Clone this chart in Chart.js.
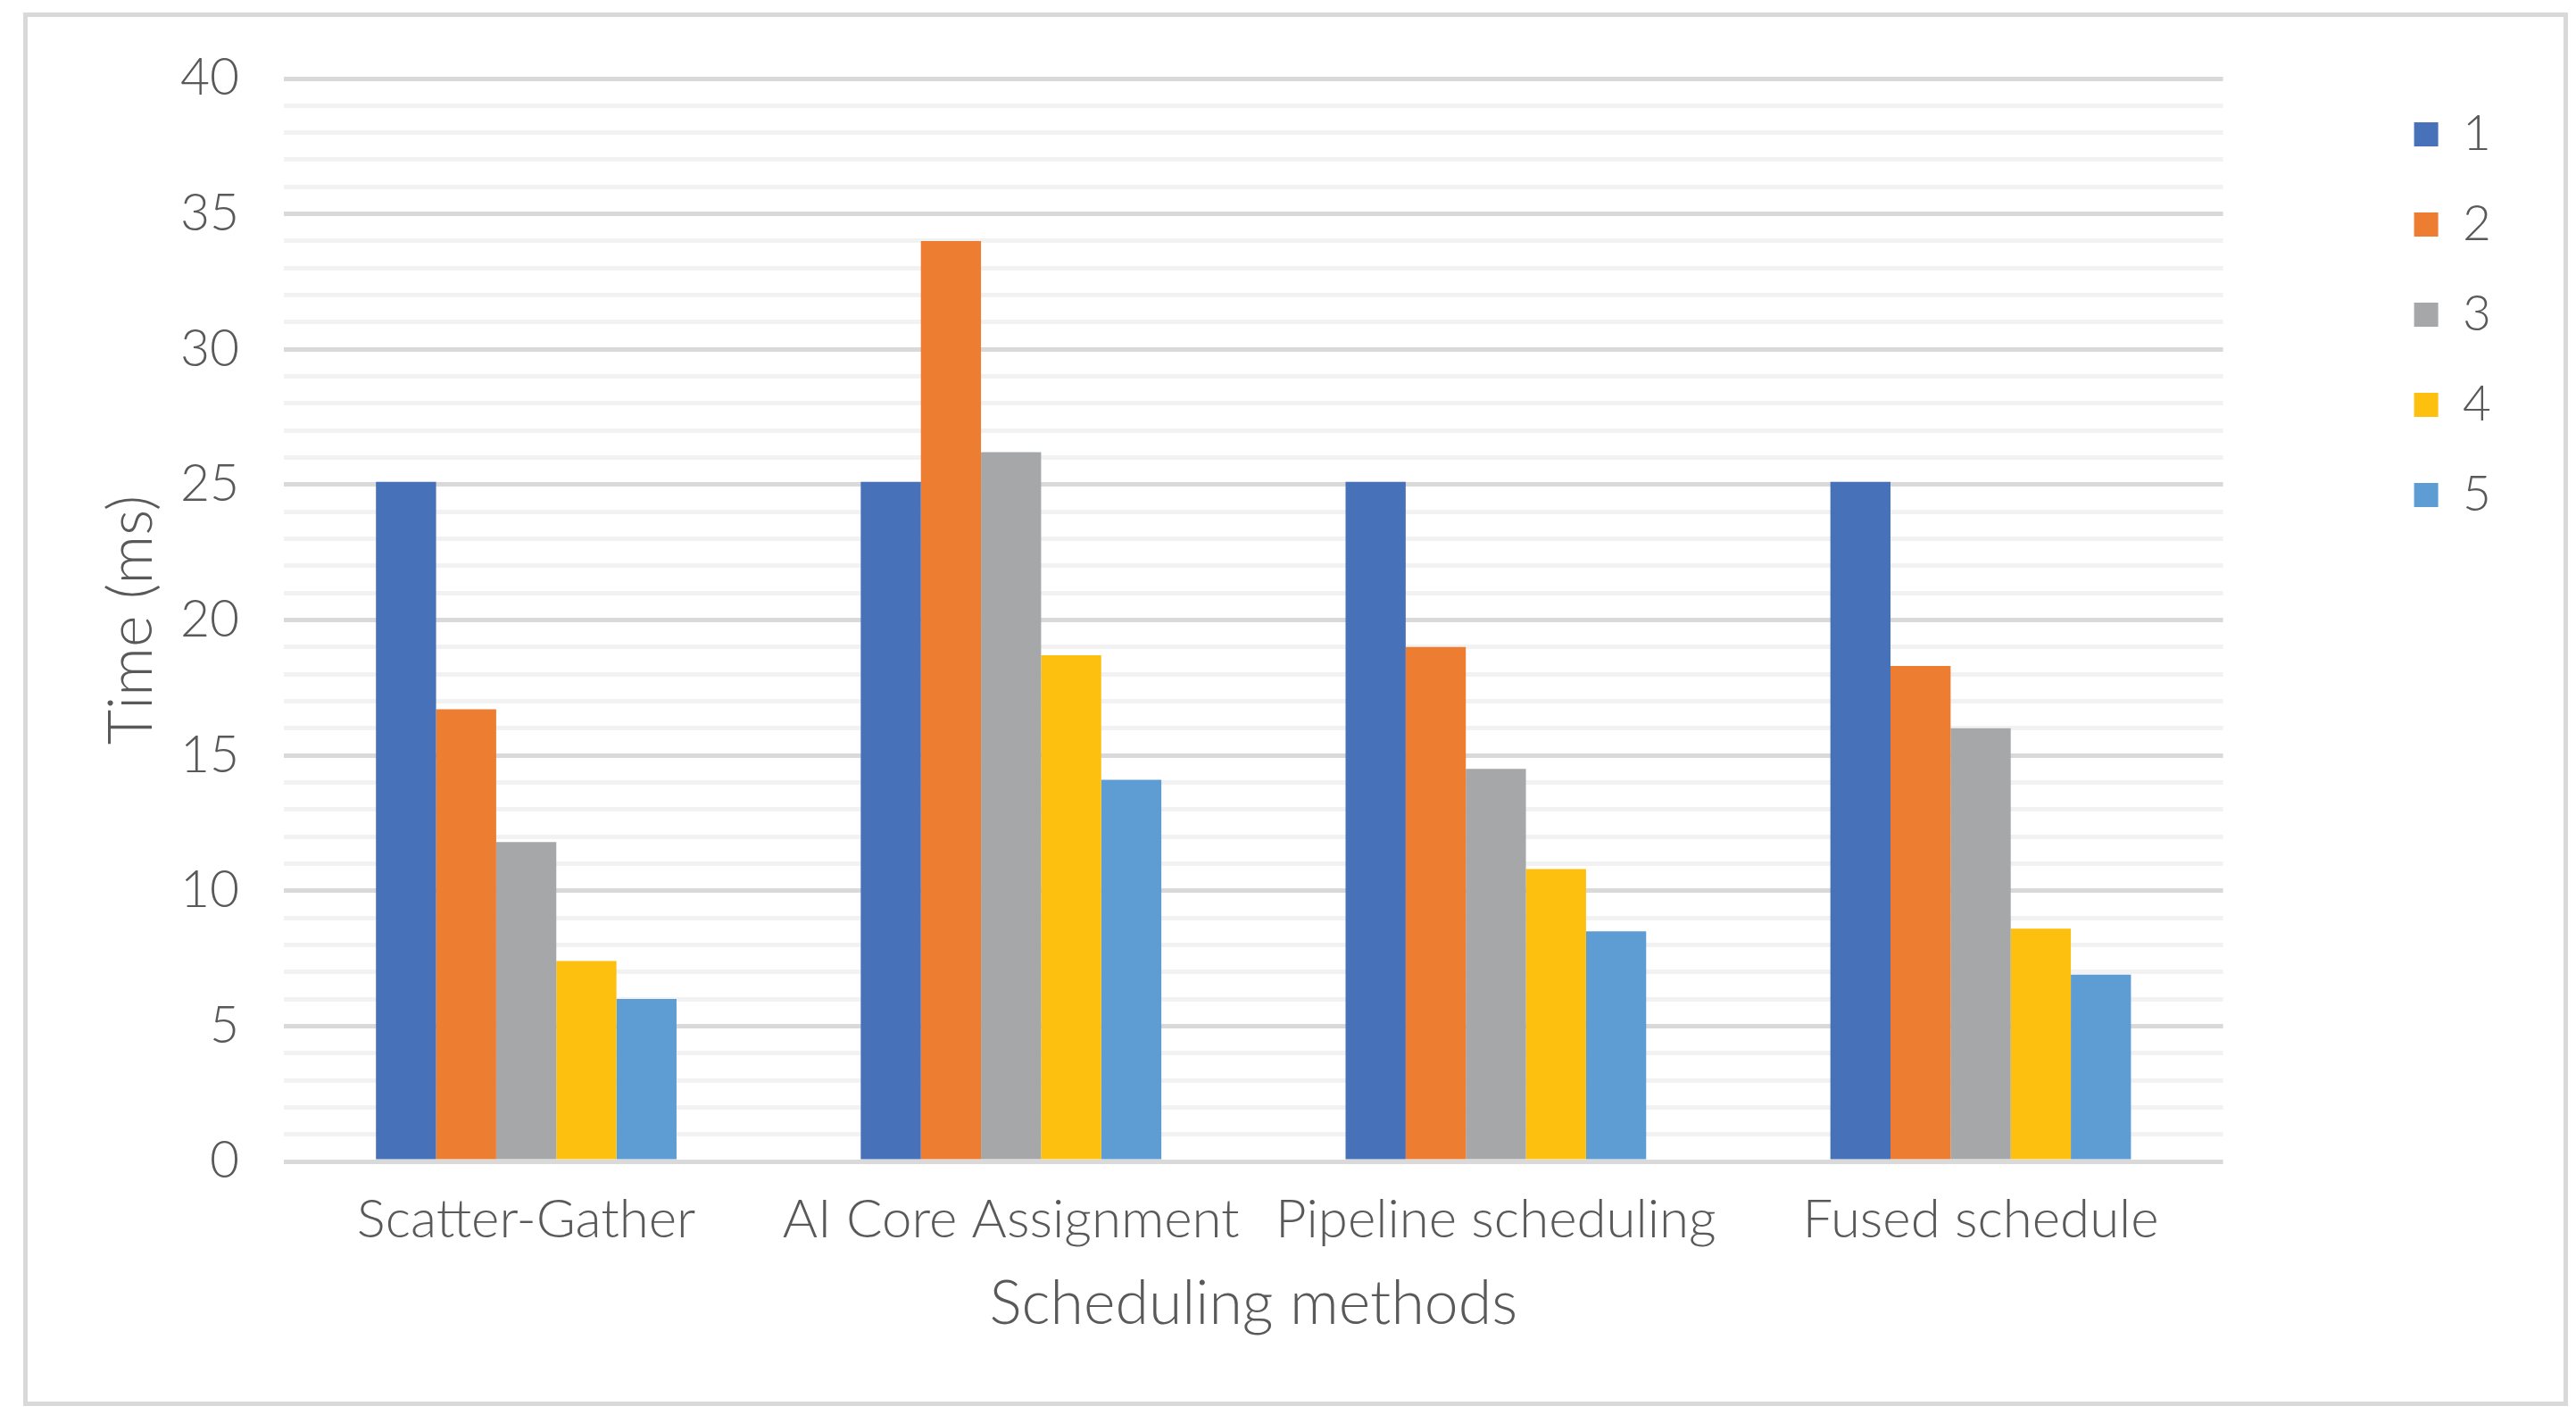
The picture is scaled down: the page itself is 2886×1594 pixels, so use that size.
<!DOCTYPE html>
<html><head><meta charset="utf-8">
<script src="https://cdn.jsdelivr.net/npm/chart.js@4"></script>
<style>
html,body{margin:0;padding:0;background:#fff;overflow:hidden;}
#frame{position:absolute;left:26px;top:14px;width:2851px;height:1561px;border:5px solid #d9d9d9;box-sizing:border-box;}
#c{position:absolute;left:0;top:0;}
</style></head><body>
<div id="frame"></div>
<canvas id="c" width="2886" height="1594"></canvas>
<script>
const categories = ['Scatter-Gather', 'AI Core Assignment', 'Pipeline scheduling', 'Fused schedule'];
const seriesNames = ['1', '2', '3', '4', '5'];
const series1 = [25.1, 25.1, 25.1, 25.1];
const series2 = [16.7, 34.0, 19.0, 18.3];
const series3 = [11.8, 26.2, 14.5, 16.0];
const series4 = [7.4, 18.7, 10.8, 8.6];
const series5 = [6.0, 14.1, 8.5, 6.9];
const yMin = 0, yMax = 40, yMajorStep = 5, yMinorStep = 1;
const xTitle = 'Scheduling methods';
const yTitle = 'Time (ms)';

const colors = ['#4771B8', '#ED7D31', '#A6A7A9', '#FDC00F', '#5E9CD4'];
const allSeries = [series1, series2, series3, series4, series5];
const textColor = '#595959';
const fam = 'Lato, Roboto, sans-serif';

new Chart(document.getElementById('c'), {
  type: 'bar',
  data: {
    labels: categories,
    datasets: allSeries.map((d, i) => ({
      label: seriesNames[i],
      data: d,
      backgroundColor: colors[i],
      borderWidth: 0,
      categoryPercentage: 0.62,
      barPercentage: 1.0
    }))
  },
  options: {
    responsive: false,
    animation: false,
    devicePixelRatio: 1,
    layout: { padding: { left: 85, right: 85, top: 77, bottom: 90 } },
    plugins: {
      tooltip: { enabled: false },
      legend: {
        position: 'right',
        align: 'start',
        labels: {
          boxWidth: 27, boxHeight: 27, padding: 46,
          color: textColor,
          font: { family: fam, size: 55, weight: 300 }
        }
      }
    },
    scales: {
      x: {
        grid: { display: false },
        border: { display: false },
        ticks: { color: textColor, font: { family: fam, size: 60, weight: 300 }, padding: 22, maxRotation: 0, autoSkip: false },
        title: { display: true, text: xTitle, color: textColor, font: { family: fam, size: 68, weight: 300 }, padding: { top: 30, bottom: 2 } },
        afterFit: (s) => { s.height = 203; }
      },
      y: {
        min: yMin, max: yMax,
        border: { display: false },
        grid: {
          drawTicks: false,
          lineWidth: 5,
          color: (ctx) => (ctx.tick && ctx.tick.value % yMajorStep === 0) ? '#d9d9d9' : '#f2f2f2'
        },
        ticks: {
          stepSize: yMinorStep, autoSkip: false, padding: 50,
          color: textColor, font: { family: fam, size: 57, weight: 300 },
          callback: (v) => (v % yMajorStep === 0 ? String(v) : '')
        },
        title: { display: true, text: yTitle, color: textColor, font: { family: fam, size: 68, weight: 300 }, padding: { top: 22, bottom: 24 } },
        afterFit: (s) => { s.width = 233; s.paddingTop = 88; }
      },
      spacer: {
        position: 'right',
        display: true,
        grid: { display: false },
        border: { display: false },
        ticks: { display: false },
        afterFit: (s) => { s.width = 168; }
      }
    }
  }
});
</script>
</body></html>
